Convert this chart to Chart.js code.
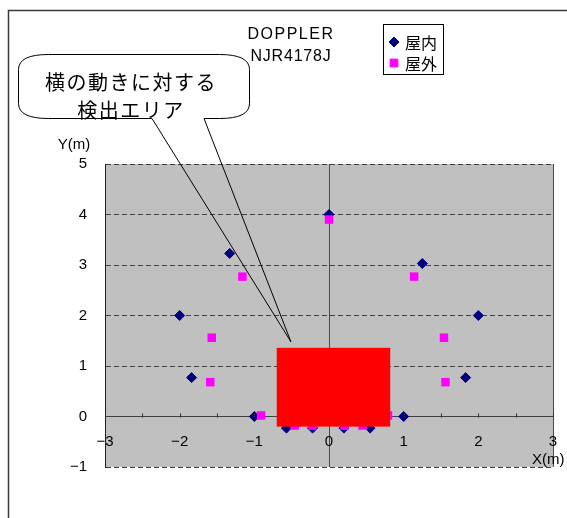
<!DOCTYPE html>
<html>
<head>
<meta charset="utf-8">
<script src="https://cdn.jsdelivr.net/npm/chart.js@4/dist/chart.umd.min.js"></script>
<style>
  html, body { margin: 0; padding: 0; background: #ffffff; }
  #wrap { width: 567px; height: 518px; }
</style>
</head>
<body>
<div id="wrap"><canvas id="c" width="567" height="518"></canvas></div>
<script>
// Series names and measured detection points (metres)
const seriesNames = ['屋内', '屋外'];
const indoorX  = [0, -1.33, 1.25, -2, 2, -1.84, 1.83, -1.0, 1.0, -0.57, 0.55, -0.22, 0.2];
const indoorY  = [4, 3.23, 3.03, 2, 2, 0.77, 0.77, 0, 0, -0.23, -0.23, -0.23, -0.23];
const outdoorX = [0, -1.16, 1.14, -1.57, 1.54, -1.59, 1.56, -0.91, 0.79, -0.46, -0.22, 0.21, 0.45];
const outdoorY = [3.9, 2.77, 2.77, 1.56, 1.56, 0.68, 0.68, 0.02, 0.02, -0.18, -0.18, -0.18, -0.18];

// Axis ranges and tick steps
const xRange = [-3, 3];
const yRange = [-1, 5];
const xTickStep = 0.5;
const yTickStep = 1;

// Titles and annotation text
const titleLines = ['DOPPLER', 'NJR4178J'];
const yAxisTitle = 'Y(m)';
const xAxisTitle = 'X(m)';
const calloutLines = ['横の動きに対する', '検出エリア'];

// Lateral-motion detection area (data units) and callout pointer tip
const areaX = [-0.7, 0.82];
const areaY = [-0.2, 1.36];
const calloutTip = [-0.51, 1.48];

const toPoints = (xs, ys) => xs.map((x, i) => ({ x: x, y: ys[i] }));
const fmt = v => (v < 0 ? '\u2212' + Math.abs(v) : String(v));
const NUM_FAMILY = '"Liberation Sans", Arial, sans-serif';
const JP_FONT = '"Noto Sans CJK JP", "Noto Sans", sans-serif';

const noPad = s => { s.paddingLeft = 0; s.paddingRight = 0; s.paddingTop = 0; s.paddingBottom = 0; };

const decor = {
  id: 'decor',
  beforeDraw(chart) {
    const ctx = chart.ctx, a = chart.chartArea;
    ctx.save();
    ctx.fillStyle = '#ffffff';
    ctx.fillRect(0, 0, chart.width, chart.height);
    // outer frame
    ctx.strokeStyle = '#383838';
    ctx.lineWidth = 1.5;
    ctx.strokeRect(8.5, 10.5, 700, 700);
    // plot background
    ctx.fillStyle = '#c0c0c0';
    ctx.fillRect(a.left, a.top, a.right - a.left, a.bottom - a.top);
    ctx.restore();
  },
  afterDatasetsDraw(chart) {
    const ctx = chart.ctx, xs = chart.scales.x, ys = chart.scales.y;
    ctx.save();
    // small tick marks pointing up from the X axis line
    const y0 = Math.round(ys.getPixelForValue(0)) + 0.5;
    ctx.strokeStyle = '#303030';
    ctx.lineWidth = 1;
    ctx.beginPath();
    xs.ticks.forEach(t => {
      const px = Math.round(xs.getPixelForValue(t.value)) + 0.5;
      ctx.moveTo(px, y0);
      ctx.lineTo(px, y0 - 4);
    });
    ctx.stroke();
    // detection area
    const l = xs.getPixelForValue(areaX[0]), r = xs.getPixelForValue(areaX[1]);
    const t = ys.getPixelForValue(areaY[1]), b = ys.getPixelForValue(areaY[0]);
    ctx.fillStyle = '#ff0000';
    ctx.fillRect(l, t, r - l, b - t);
    ctx.restore();
  },
  afterDraw(chart) {
    const ctx = chart.ctx, xs = chart.scales.x, ys = chart.scales.y;
    ctx.save();
    ctx.fillStyle = '#000000';
    ctx.textBaseline = 'middle';

    // chart title
    ctx.font = '16px ' + NUM_FAMILY;
    ctx.letterSpacing = '1.5px';
    ctx.textAlign = 'center';
    ctx.fillText(titleLines[0], 291, 35);
    ctx.letterSpacing = '0.8px';
    ctx.fillText(titleLines[1], 291, 57);
    ctx.letterSpacing = '0px';

    // axis titles
    ctx.font = '15px ' + NUM_FAMILY;
    ctx.textAlign = 'center';
    ctx.fillText(yAxisTitle, 74, 145);
    ctx.textAlign = 'left';
    ctx.fillText(xAxisTitle, 532, 460);

    // legend
    const lx = 383.5, ly = 24.5, lw = 60, lh = 50;
    ctx.strokeStyle = '#000000';
    ctx.lineWidth = 1;
    ctx.strokeRect(lx, ly, lw, lh);
    const rows = [42, 63];
    chart.data.datasets.forEach((ds, i) => {
      ctx.fillStyle = ds.backgroundColor;
      ctx.strokeStyle = ds.borderColor;
      Chart.helpers.drawPoint(ctx, {
        pointStyle: ds.pointStyle,
        radius: ds.pointStyle === 'rect' ? 5.5 : 5,
        borderWidth: 1
      }, 394, rows[i]);
      ctx.fillStyle = '#000000';
      ctx.font = '16px ' + JP_FONT;
      ctx.textAlign = 'left';
      ctx.fillText(ds.label, 405, rows[i] + 1);
    });

    // callout bubble with pointer to the detection area
    const bx0 = 18.5, by0 = 54.5, bx1 = 249.5, by1 = 118.5, rx = 30, ry = 15;
    const tipX = xs.getPixelForValue(calloutTip[0]);
    const tipY = ys.getPixelForValue(calloutTip[1]);
    ctx.beginPath();
    ctx.moveTo(bx0 + rx, by0);
    ctx.lineTo(bx1 - rx, by0);
    ctx.quadraticCurveTo(bx1, by0, bx1, by0 + ry);
    ctx.lineTo(bx1, by1 - ry);
    ctx.quadraticCurveTo(bx1, by1, bx1 - rx, by1);
    ctx.lineTo(204, by1);
    ctx.lineTo(tipX, tipY);
    ctx.lineTo(152, by1);
    ctx.lineTo(bx0 + rx, by1);
    ctx.quadraticCurveTo(bx0, by1, bx0, by1 - ry);
    ctx.lineTo(bx0, by0 + ry);
    ctx.quadraticCurveTo(bx0, by0, bx0 + rx, by0);
    ctx.closePath();
    ctx.strokeStyle = '#000000';
    ctx.lineWidth = 1;
    ctx.stroke();

    ctx.fillStyle = '#000000';
    ctx.font = '20px ' + JP_FONT;
    ctx.letterSpacing = '1.5px';
    ctx.textAlign = 'center';
    ctx.fillText(calloutLines[0], 131, 82);
    ctx.fillText(calloutLines[1], 131, 110);
    ctx.letterSpacing = '0px';
    ctx.restore();
  }
};

new Chart(document.getElementById('c'), {
  type: 'scatter',
  data: {
    datasets: [
      {
        label: seriesNames[0],
        data: toPoints(indoorX, indoorY),
        pointStyle: 'rectRot',
        pointRadius: 5,
        pointHoverRadius: 5,
        backgroundColor: '#000080',
        borderColor: '#000080',
        borderWidth: 1,
        order: 2
      },
      {
        label: seriesNames[1],
        data: toPoints(outdoorX, outdoorY),
        pointStyle: 'rect',
        pointRadius: 6,
        pointHoverRadius: 6,
        backgroundColor: '#ff00ff',
        borderColor: '#ff00ff',
        borderWidth: 0,
        order: 1
      }
    ]
  },
  options: {
    responsive: false,
    animation: false,
    devicePixelRatio: 1,
    layout: { padding: { top: 164, left: 27, right: 14, bottom: 51 } },
    plugins: {
      legend: { display: false },
      title: { display: false },
      tooltip: { enabled: false }
    },
    scales: {
      x: {
        type: 'linear',
        position: { y: 0 },
        min: xRange[0],
        max: xRange[1],
        afterFit: s => { s.height = 0; noPad(s); },
        ticks: {
          stepSize: xTickStep,
          padding: 16,
          color: '#000000',
          font: { family: NUM_FAMILY, size: 15 },
          maxRotation: 0,
          autoSkip: false,
          callback: v => (Number.isInteger(v) ? fmt(v) : '')
        },
        grid: {
          drawTicks: false,
          color: c => (c.tick && (c.tick.value === 0 || c.tick.value === xRange[1]) ? '#4a4a4a' : 'rgba(0,0,0,0)'),
          lineWidth: 1
        },
        border: { display: true, color: '#404040', width: 1 }
      },
      y: {
        type: 'linear',
        position: 'left',
        min: yRange[0],
        max: yRange[1],
        afterFit: s => { s.width = 78; noPad(s); },
        ticks: {
          stepSize: yTickStep,
          padding: 18,
          color: '#000000',
          font: { family: NUM_FAMILY, size: 15 },
          callback: v => fmt(v)
        },
        grid: {
          drawTicks: false,
          color: c => (c.tick && c.tick.value === 0 ? 'rgba(0,0,0,0)' : '#404040'),
          lineWidth: 1
        },
        border: {
          display: true,
          color: '#202020',
          width: 1,
          dash: c => (c.type === 'tick' ? [5, 3] : [])
        }
      }
    }
  },
  plugins: [decor]
});
</script>
</body>
</html>
